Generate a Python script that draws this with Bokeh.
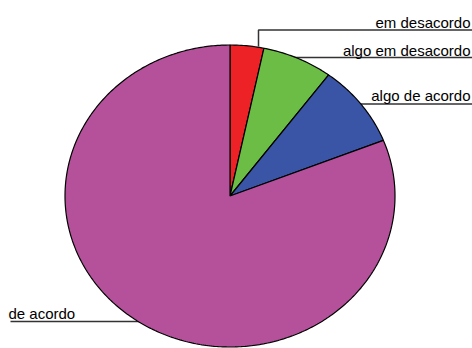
import numpy as np
from bokeh.plotting import figure
from bokeh.models import Range1d, ColumnDataSource
from bokeh.core.properties import value
from bokeh.embed import file_html
from bokeh.resources import INLINE

# ---- data (clockwise from 12 o'clock) ----
categories = ["em desacordo", "algo em desacordo", "algo de acordo", "de acordo"]
shares = [3.3, 6.9, 8.8, 81.0]
colors = ["#ED2227", "#6BBD46", "#3A55A5", "#B5519B"]

# ---- layout ----
W, H = 472, 348
cx, cy, rx, ry = 229.5, 195.5, 165.0, 151.0

p = figure(width=W, height=H, output_backend="svg", toolbar_location=None,
           x_range=Range1d(0, W), y_range=Range1d(H, 0), min_border=0)
p.axis.visible = False
p.grid.visible = False
p.outline_line_color = None
p.background_fill_color = "white"
p.border_fill_color = "white"

# leader lines (drawn beneath the pie)
lead_xs = [[258, 258, 472], [290, 472], [355, 472], [10, 142]]
lead_ys = [[46, 29.5, 29.5], [57, 57], [103.5, 103.5], [321, 321]]
p.multi_line(lead_xs, lead_ys, line_color="#333333", line_width=1.5)

# pie slices as elliptic wedges
fr = np.array(shares, dtype=float) / sum(shares)
cum = np.concatenate([[0], np.cumsum(fr)]) * 2 * np.pi
xs, ys = [], []
for a0, a1 in zip(cum[:-1], cum[1:]):
    t = np.linspace(a0, a1, max(4, int((a1 - a0) * 80)))
    xs.append([cx] + list(cx + rx * np.sin(t)) + [cx])
    ys.append([cy] + list(cy - ry * np.cos(t)) + [cy])
src = ColumnDataSource(dict(xs=xs, ys=ys, color=colors, cat=categories))
p.patches("xs", "ys", source=src, fill_color="color", line_color="black",
          line_width=1.2)

# labels
lab_x = [470, 470, 470, 8]
lab_y = [21.5, 50, 95, 312.5]
lab_align = ["right", "right", "right", "left"]
p.text(x=lab_x, y=lab_y, text=categories, text_align=lab_align,
       text_baseline="alphabetic", text_font=value("Liberation Sans"),
       text_font_size="15px", text_color="black")

open("out.html", "w").write(file_html(p, INLINE))
